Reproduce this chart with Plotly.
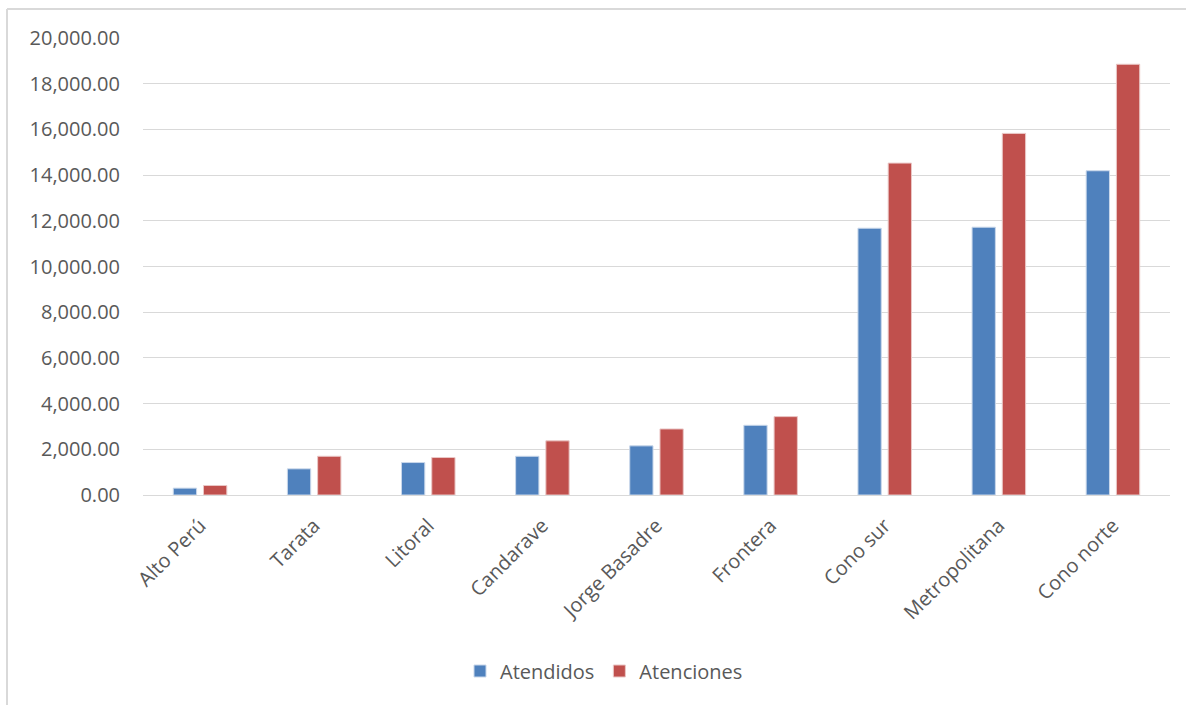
import plotly.graph_objects as go

# Health-network data: attended patients vs. number of attentions
redes = ["Alto Perú", "Tarata", "Litoral", "Candarave", "Jorge Basadre",
         "Frontera", "Cono sur", "Metropolitana", "Cono norte"]
atendidos = [300, 1145, 1420, 1695, 2150, 3050, 11675, 11720, 14190]
atenciones = [415, 1695, 1640, 2370, 2890, 3430, 14525, 15825, 18850]

y_ticks = [0, 2000, 4000, 6000, 8000, 10000, 12000, 14000, 16000, 18000, 20000]

BLUE = "#4f81bd"
RED = "#c0504d"
TEXT = "#595959"
GRID = "#d9d9d9"
FONT = "Open Sans"

W, H = 1186, 705
ML, MR, MT, MB = 143, 16, 38, 210
PW = W - ML - MR
PH = H - MT - MB

fig = go.Figure()
fig.add_trace(go.Bar(name="Atendidos", x=redes, y=atendidos,
                     marker=dict(color=BLUE, line=dict(color="#c9d7ea", width=1))))
fig.add_trace(go.Bar(name="Atenciones", x=redes, y=atenciones,
                     marker=dict(color=RED, line=dict(color="#eac7c6", width=1))))

# outer chart frame (left and top edges)
fx0 = (7 - ML) / PW
fy1 = (H - MB - 9) / PH
fy0 = (H - MB - H) / PH
fig.add_shape(type="line", xref="paper", yref="paper", x0=fx0, x1=fx0, y0=fy0, y1=fy1,
              line=dict(color="#d9d9d9", width=2))
fig.add_shape(type="line", xref="paper", yref="paper", x0=fx0, x1=(W - ML) / PW, y0=fy1, y1=fy1,
              line=dict(color="#d9d9d9", width=2))

fig.update_layout(
    width=W, height=H,
    margin=dict(l=ML, r=MR, t=MT, b=MB, pad=0),
    paper_bgcolor="white", plot_bgcolor="white",
    barmode="group", bargap=0.47, bargroupgap=0.23,
    font=dict(family=FONT, size=20, color=TEXT),
    showlegend=True,
    legend=dict(orientation="h", x=(604 - ML) / PW, xanchor="center",
                y=(H - MB - 671) / PH, yanchor="middle",
                font=dict(family=FONT, size=20, color=TEXT),
                itemwidth=30, traceorder="normal"),
    xaxis=dict(tickangle=-45, showgrid=False, showline=True, linecolor=GRID, linewidth=1,
               ticks="", tickfont=dict(family=FONT, size=20, color=TEXT),
               ticklabelstandoff=10),
    yaxis=dict(range=[0, 20000], tickvals=y_ticks,
               ticktext=[f"{v:,.2f}" for v in y_ticks],
               showgrid=True, gridcolor=GRID, gridwidth=1,
               zeroline=True, zerolinecolor=GRID, zerolinewidth=1,
               ticks="", tickfont=dict(family=FONT, size=20, color=TEXT),
               ticklabelstandoff=22),
)

fig.write_html("out.html")
